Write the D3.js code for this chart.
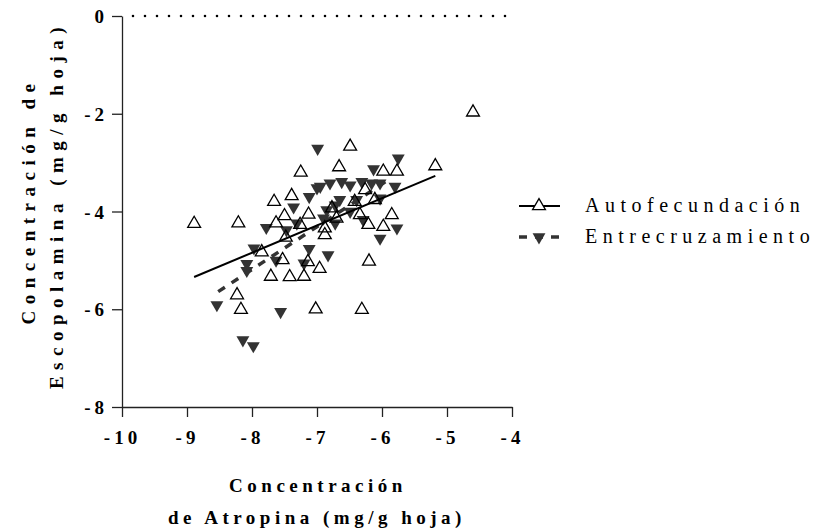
<!DOCTYPE html>
<html>
<head>
<meta charset="utf-8">
<script src="https://cdn.jsdelivr.net/npm/d3@7"></script>
<style>
  body { margin: 0; background: #fff; }
  svg { display: block; font-family: 'Liberation Serif', 'Times New Roman', serif; }
</style>
</head>
<body>
<div id="chart"></div>
<script>
// Autofecundación (open triangles) [atropina, escopolamina]
const autoX = [-8.89, -8.21, -8.23, -8.17, -7.85, -7.71, -7.66, -7.63, -7.53, -7.50, -7.48, -7.39, -7.42, -7.26, -7.25, -7.20, -7.13, -7.14, -7.02, -6.96, -6.88, -6.88, -6.77, -6.70, -6.66, -6.49, -6.42, -6.34, -6.26, -6.31, -6.21, -6.20, -6.11, -5.98, -5.98, -5.85, -5.77, -5.18, -4.60]
const autoY = [-4.25, -4.24, -5.71, -6.01, -4.83, -5.33, -3.80, -4.24, -4.99, -4.09, -4.53, -3.68, -5.34, -4.27, -3.20, -5.33, -4.06, -5.03, -6.00, -5.17, -4.34, -4.48, -3.93, -4.14, -3.09, -2.67, -3.80, -4.07, -3.56, -6.01, -4.27, -5.02, -3.76, -3.18, -4.31, -4.07, -3.18, -3.07, -1.97]

// Entrecruzamiento (filled inverted triangles)
const crossX = [-8.54, -8.14, -7.98, -7.97, -8.08, -8.08, -7.78, -7.63, -7.56, -7.47, -7.36, -7.20, -7.12, -7.12, -7.00, -6.99, -6.83, -6.80, -6.62, -6.49, -6.31, -6.16, -6.03, -6.13, -5.75, -5.80, -6.03, -6.39, -6.65, -6.72, -6.85, -6.49, -6.29, -5.77, -6.03, -6.90, -6.72, -6.95, -7.31]
const crossY = [-5.91, -6.63, -6.75, -4.75, -5.07, -5.21, -4.33, -5.00, -6.05, -4.38, -3.91, -5.06, -3.70, -4.76, -3.52, -2.71, -4.89, -3.42, -3.39, -3.46, -3.39, -3.42, -3.42, -3.13, -2.91, -3.49, -3.73, -3.76, -3.76, -3.87, -3.97, -4.00, -4.17, -4.34, -4.55, -4.14, -4.24, -3.49, -4.24]

// Regression lines (end points)
const autoFitX = [-8.89, -5.18]
const autoFitY = [-5.34, -3.27]
const crossFitX = [-8.52, -5.90]
const crossFitY = [-5.64, -3.35]

// Axis ticks
const xTicks = [-10, -9, -8, -7, -6, -5, -4]
const yTicks = [-8, -6, -4, -2, 0]

const seriesNames = ['Autofecundación', 'Entrecruzamiento']

const width = 820
const height = 531
const margin = { top: 16, left: 122, right: 308, bottom: 124 }

const svg = d3.select('#chart').append('svg')
  .attr('width', width)
  .attr('height', height)

const xScale = d3.scaleLinear().domain([-10, -4]).range([margin.left, width - margin.right])
const yScale = d3.scaleLinear().domain([-8, 0]).range([height - margin.bottom, margin.top])

// Axes
const xAxis = svg.append('g')
  .attr('transform', `translate(0, ${yScale(-8)})`)
  .call(d3.axisBottom(xScale).tickValues(xTicks).tickSize(10).tickSizeOuter(0).tickPadding(14).tickFormat(d => String(d)))
const yAxis = svg.append('g')
  .attr('transform', `translate(${xScale(-10)}, 0)`)
  .call(d3.axisLeft(yScale).tickValues(yTicks).tickSize(10).tickSizeOuter(0).tickPadding(4).tickFormat(d => String(d)))

;[xAxis, yAxis].forEach(ax => {
  ax.selectAll('path, line').attr('stroke', '#222').attr('stroke-width', 1.3)
  ax.selectAll('text')
    .attr('fill', '#000')
    .style('font-family', "'Liberation Serif', serif")
    .style('font-weight', 'bold')
    .style('font-size', '19px')
    .style('letter-spacing', '4px')
})
yAxis.selectAll('text').attr('dy', '0.35em')

// Dotted zero line
svg.append('line')
  .attr('x1', xScale(-10) + 11)
  .attr('x2', xScale(-4))
  .attr('y1', yScale(0))
  .attr('y2', yScale(0))
  .attr('stroke', '#000')
  .attr('stroke-width', 2.6)
  .attr('stroke-linecap', 'round')
  .attr('stroke-dasharray', '0,12')

const tri = d3.symbol().type(d3.symbolTriangle).size(72)

// Entrecruzamiento points
svg.append('g').selectAll('path')
  .data(crossX.map((x, i) => [x, crossY[i]]))
  .join('path')
  .attr('d', tri())
  .attr('transform', d => `translate(${xScale(d[0])}, ${yScale(d[1])}) rotate(180)`)
  .attr('fill', '#333')

// Regression lines
svg.append('line')
  .attr('x1', xScale(crossFitX[0])).attr('y1', yScale(crossFitY[0]))
  .attr('x2', xScale(crossFitX[1])).attr('y2', yScale(crossFitY[1]))
  .attr('stroke', '#333')
  .attr('stroke-width', 3.5)
  .attr('stroke-dasharray', '8,8')
svg.append('line')
  .attr('x1', xScale(autoFitX[0])).attr('y1', yScale(autoFitY[0]))
  .attr('x2', xScale(autoFitX[1])).attr('y2', yScale(autoFitY[1]))
  .attr('stroke', '#000')
  .attr('stroke-width', 2)

// Autofecundación points
svg.append('g').selectAll('path')
  .data(autoX.map((x, i) => [x, autoY[i]]))
  .join('path')
  .attr('d', tri())
  .attr('transform', d => `translate(${xScale(d[0])}, ${yScale(d[1])})`)
  .attr('fill', 'none')
  .attr('stroke', '#000')
  .attr('stroke-width', 1.3)

// Axis titles
const xTitle = svg.append('text')
  .attr('text-anchor', 'middle')
  .style('font-weight', 'bold')
  .style('font-size', '19px')
  .style('letter-spacing', '4.5px')
xTitle.append('tspan').attr('x', 318).attr('y', 492).text('Concentración')
xTitle.append('tspan').attr('x', 317).attr('y', 524).text('de Atropina (mg/g hoja)')

const yTitle = svg.append('text')
  .attr('text-anchor', 'middle')
  .attr('transform', 'rotate(-90)')
  .style('font-weight', 'bold')
  .style('font-size', '19px')
  .style('letter-spacing', '6.5px')
yTitle.append('tspan').attr('x', -201).attr('y', 35).text('Concentración de')
yTitle.append('tspan').attr('x', -205).attr('y', 63).text('Escopolamina (mg/g hoja)')

// Legend
const legend = svg.append('g').attr('class', 'legend')
const legendRows = [206, 237]
legend.append('line')
  .attr('x1', 519).attr('x2', 560)
  .attr('y1', legendRows[0]).attr('y2', legendRows[0])
  .attr('stroke', '#000').attr('stroke-width', 2)
legend.append('path')
  .attr('d', tri())
  .attr('transform', `translate(539, ${legendRows[0]})`)
  .attr('fill', '#fff').attr('stroke', '#000').attr('stroke-width', 1.3)
legend.append('line')
  .attr('x1', 519).attr('x2', 560)
  .attr('y1', legendRows[1]).attr('y2', legendRows[1])
  .attr('stroke', '#333').attr('stroke-width', 3.5)
  .attr('stroke-dasharray', '8,8')
legend.append('path')
  .attr('d', tri())
  .attr('transform', `translate(539, ${legendRows[1]}) rotate(180)`)
  .attr('fill', '#333')
legend.selectAll('text.label')
  .data(seriesNames)
  .join('text')
  .attr('class', 'label')
  .attr('x', 585)
  .attr('y', (d, i) => legendRows[i] + 6)
  .style('font-size', '20px')
  .style('letter-spacing', '5.5px')
  .text(d => d)
</script>
</body>
</html>
